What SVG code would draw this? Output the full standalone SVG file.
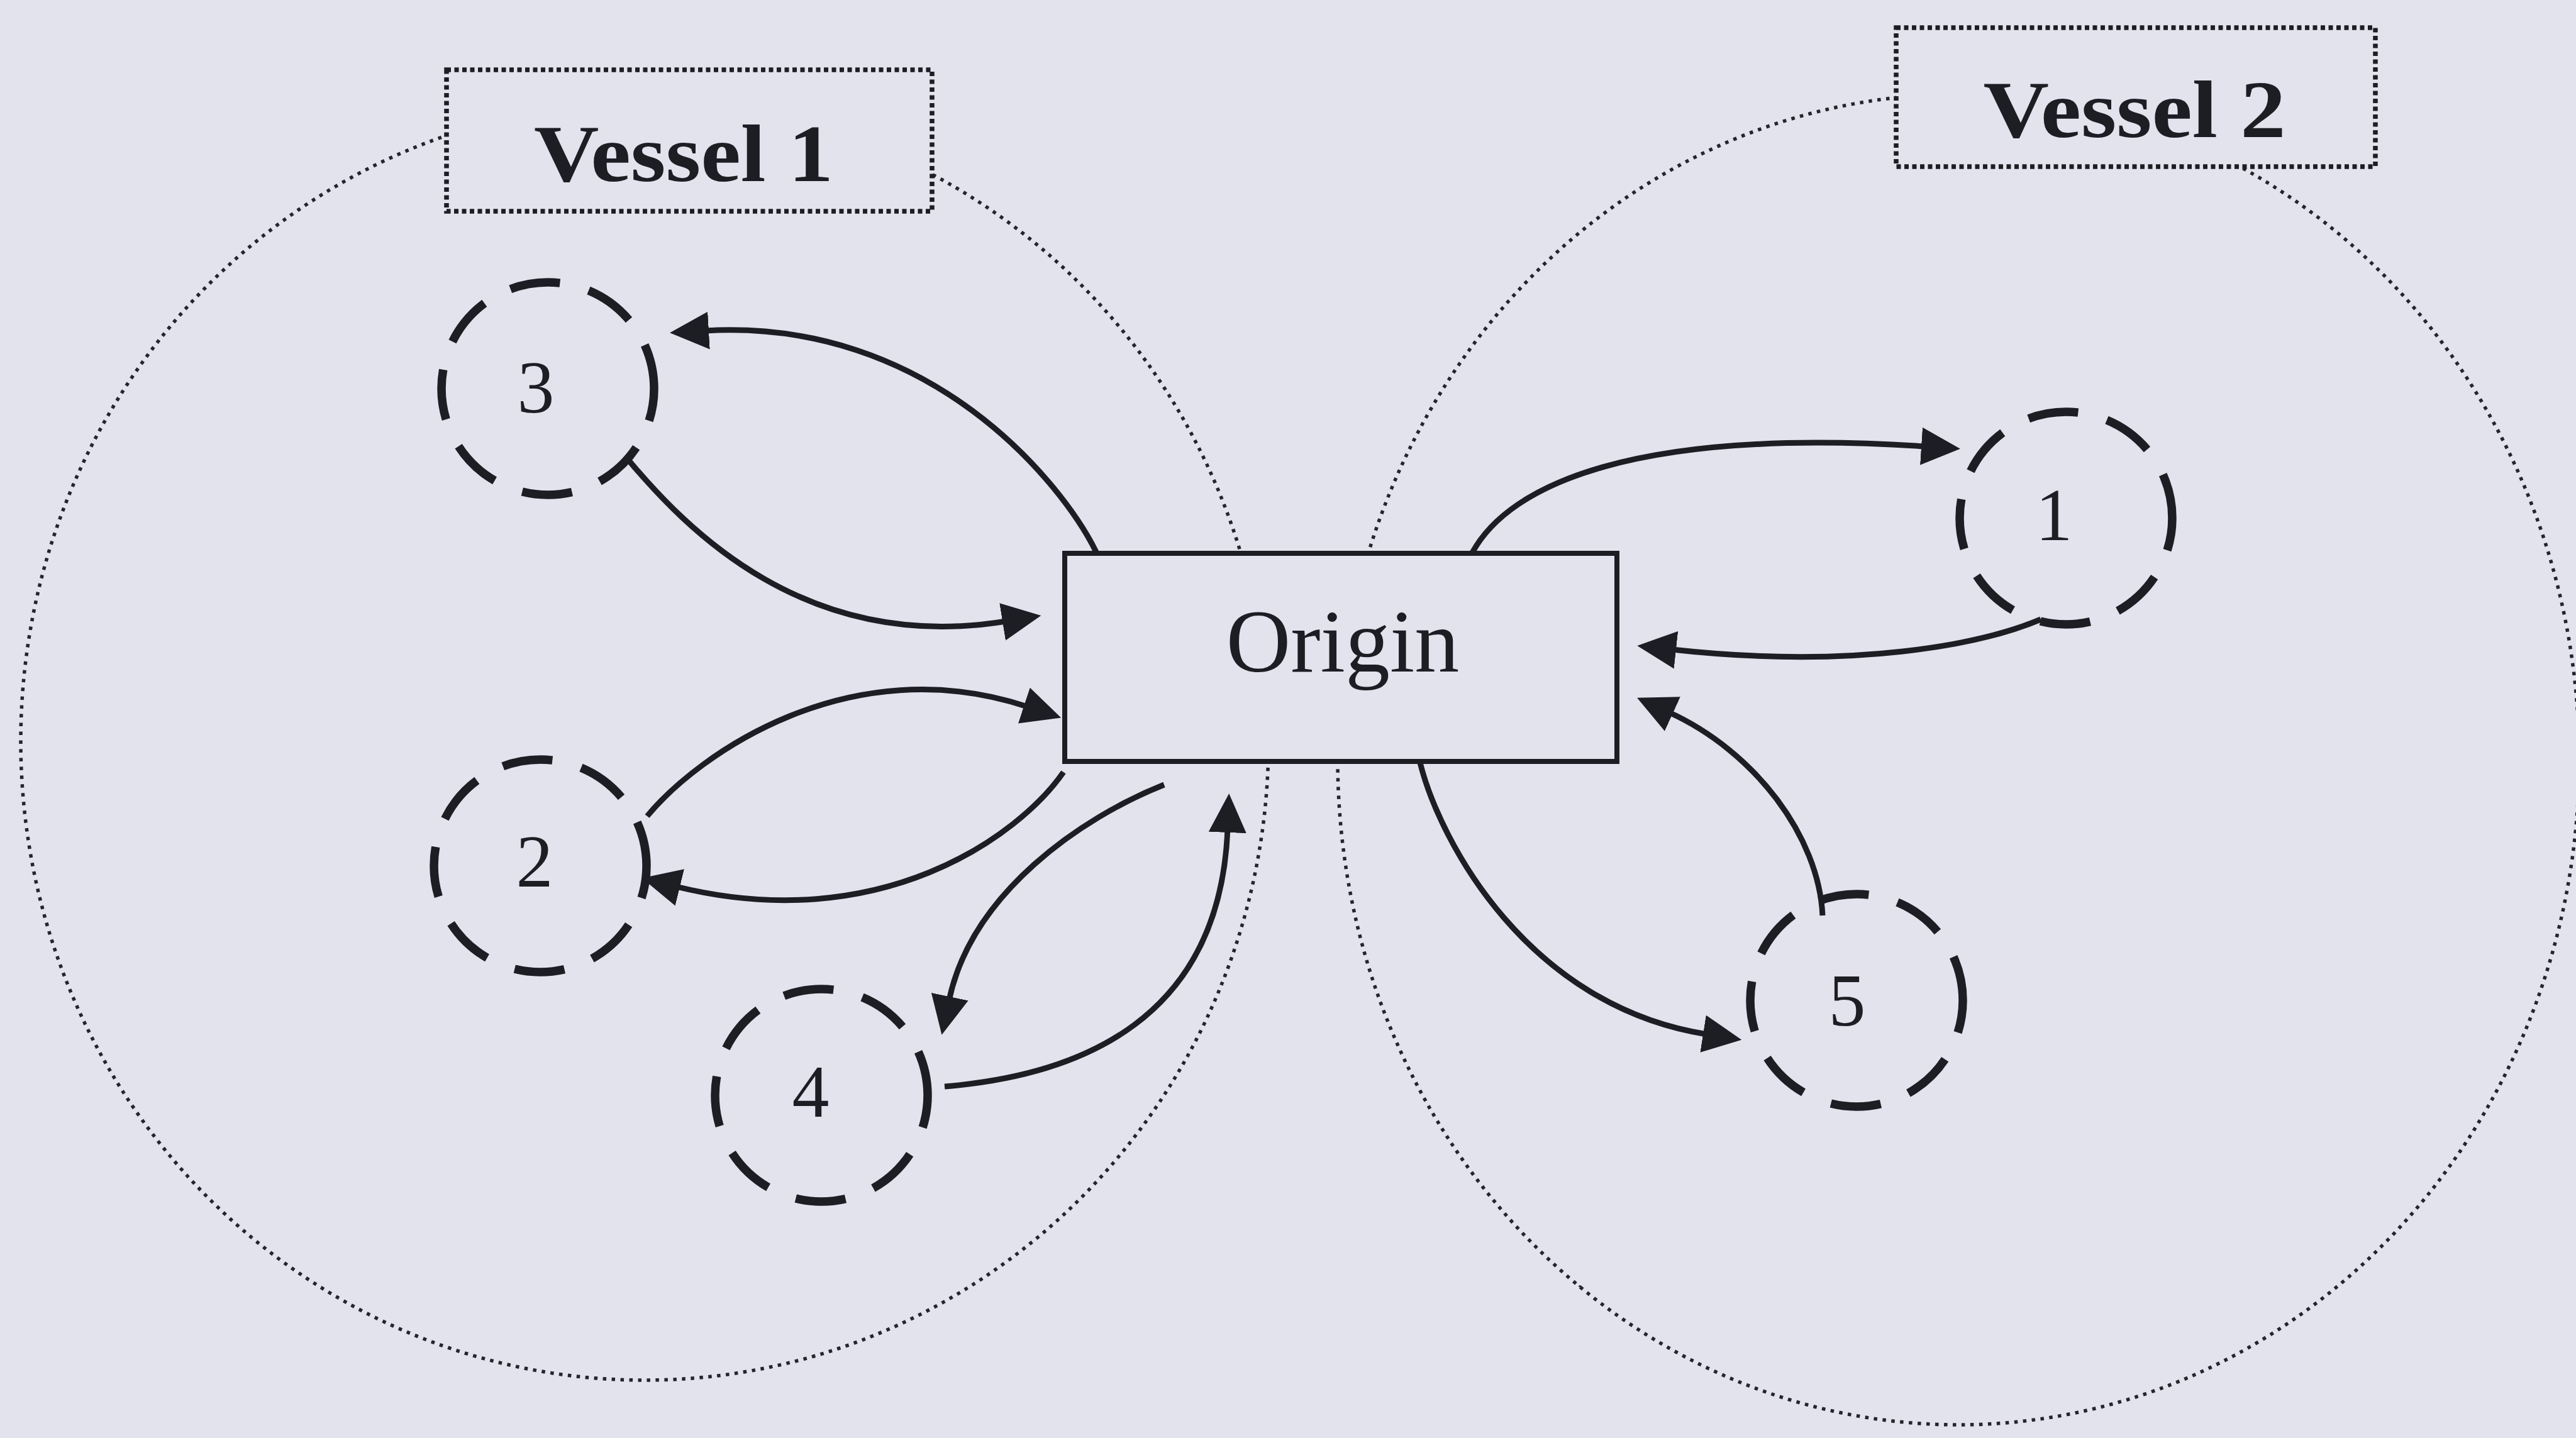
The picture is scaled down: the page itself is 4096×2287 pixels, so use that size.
<svg xmlns="http://www.w3.org/2000/svg" width="4096" height="2287" viewBox="0 0 4096 2287">
  <style>
    .bg { fill: #e2e3ed; }
    .vessel { fill: none; stroke: #24242c; stroke-width: 5.5; stroke-dasharray: 5.5 8.5; }
    .label { fill: #e2e3ed; stroke: #1d1d24; stroke-width: 7.5; stroke-dasharray: 7 5.5; }
    .origin { fill: #e2e3ed; stroke: #1d1d24; stroke-width: 8; }
    .node { fill: none; stroke: #1d1d24; stroke-width: 13.5;
            stroke-dasharray: 52 47.25 80 47.25 80 47.25 80 47.25 80 47.25 80 47.25 80 47.25 80 47.25 72; }
    .link { fill: none; stroke: #1d1d24; stroke-width: 9; marker-end: url(#head); }
    .title { font-family: "Liberation Serif", "Times New Roman", serif; font-weight: bold; font-size: 130px; fill: #1d1d24; text-anchor: middle; }
    .name { font-family: "Liberation Serif", "Times New Roman", serif; font-size: 142px; fill: #1d1d24; text-anchor: middle; }
    .num { font-family: "Liberation Serif", "Times New Roman", serif; font-size: 118px; fill: #1d1d24; text-anchor: middle; }
  </style>
  <defs>
    <!-- filled triangular head; refX sits a little inside so the line tucks under it -->
    <marker id="head" markerUnits="userSpaceOnUse" viewBox="0 -32 64 64" markerWidth="64" markerHeight="64" refX="6" refY="0" orient="auto">
      <path d="M0,-30 L62,0 L0,30 z" fill="#1d1d24"/>
    </marker>
  </defs>

  <rect class="bg" x="0" y="0" width="4096" height="2287"/>

  <!-- vessel boundaries -->
  <g id="vessel-1">
    <ellipse class="vessel" cx="1025" cy="1179" rx="992" ry="1016"/>
  </g>
  <g id="vessel-2">
    <ellipse class="vessel" cx="3114" cy="1208" rx="987" ry="1058"/>
  </g>

  <!-- vessel titles -->
  <g id="vessel-1-label">
    <rect class="label" x="710" y="111" width="772" height="225"/>
    <text class="title" x="1087" y="288" textLength="476" lengthAdjust="spacingAndGlyphs">Vessel 1</text>
  </g>
  <g id="vessel-2-label">
    <rect class="label" x="3015" y="44" width="762" height="221"/>
    <text class="title" x="3394" y="218" textLength="481" lengthAdjust="spacingAndGlyphs">Vessel 2</text>
  </g>

  <!-- central origin box -->
  <g id="origin">
    <rect class="origin" x="1693" y="880" width="878" height="331"/>
    <text class="name" x="2135" y="1068">Origin</text>
  </g>

  <!-- numbered stops -->
  <g id="node-3">
    <circle class="node" cx="871" cy="618" r="169"/>
    <text class="num" x="852" y="656">3</text>
  </g>
  <g id="node-2">
    <circle class="node" cx="859" cy="1377" r="169"/>
    <text class="num" x="850" y="1410">2</text>
  </g>
  <g id="node-4">
    <circle class="node" cx="1306" cy="1742" r="169"/>
    <text class="num" x="1289" y="1776">4</text>
  </g>
  <g id="node-1">
    <circle class="node" cx="3285" cy="824" r="169"/>
    <text class="num" x="3266" y="859">1</text>
  </g>
  <g id="node-5">
    <circle class="node" cx="2952" cy="1591" r="169"/>
    <text class="num" x="2937" y="1631">5</text>
  </g>

  <!-- routes -->
  <g id="connectors">
    <path class="link" d="M1743,878 C1690,770 1480,505 1121,526"/>
    <path class="link" d="M997,729 C1090,840 1280,1040 1600,988"/>
    <path class="link" d="M1029,1298 C1110,1200 1350,1030 1634,1124"/>
    <path class="link" d="M1691,1228 C1620,1330 1400,1490 1075,1410"/>
    <path class="link" d="M1851,1248 C1720,1300 1545,1420 1509,1591"/>
    <path class="link" d="M1502,1728 C1720,1710 1940,1620 1952,1318"/>
    <path class="link" d="M2341,879 C2400,770 2600,680 3061,710"/>
    <path class="link" d="M3245,985 C3150,1025 2950,1065 2659,1033"/>
    <path class="link" d="M2898,1456 C2892,1330 2790,1195 2654,1133"/>
    <path class="link" d="M2258,1213 C2290,1340 2430,1600 2714,1645"/>
  </g>
</svg>
